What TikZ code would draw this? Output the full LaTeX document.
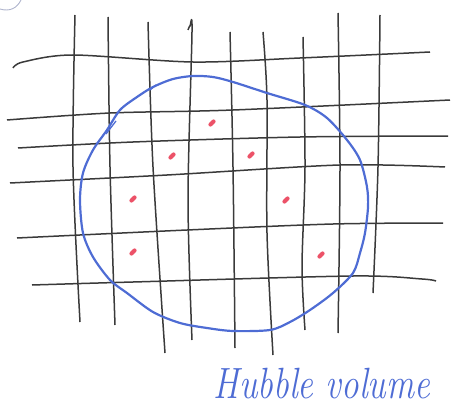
\documentclass[tikz,border=0pt]{standalone}
\definecolor{pencil}{RGB}{58,58,58}
\definecolor{penblue}{RGB}{78,108,212}
\definecolor{dotred}{RGB}{236,82,104}
\definecolor{faint}{RGB}{175,180,205}
\begin{document}
\begin{tikzpicture}[x=1pt,y=-1pt,line width=1.1pt,line join=round,
  grid/.style={draw=pencil,line width=1.5pt},
  horizon/.style={draw=penblue,line width=2.2pt},
  galaxy/.style={draw=dotred,line width=4pt,line cap=round},
  every node/.style={inner sep=0pt}]
\path[use as bounding box] (0,0) rectangle (452,409);
\coordinate (G1) at (212,123);
\coordinate (G2) at (172,156);
\coordinate (G3) at (251,155);
\coordinate (G4) at (133,199);
\coordinate (G5) at (286,200);
\coordinate (G6) at (133,252);
\coordinate (G7) at (321,255);
% vertical lines
\draw[grid] plot[smooth] coordinates {(75,15) (73,167) (80,322)};
\draw[grid] plot[smooth] coordinates {(108,17) (110,167) (115,325)};
\draw[grid] plot[smooth] coordinates {(148,22) (153,167) (165,353)};
\draw[grid] plot[smooth] coordinates {(188,30) (190,26) (192,32) (188,200) (192,340)};
\draw[grid] plot[smooth] coordinates {(230,32) (233,167) (235,348)};
\draw[grid] plot[smooth] coordinates {(263,32) (267,100) (267,233) (273,355)};
\draw[grid] plot[smooth] coordinates {(303,37) (305,167) (302,267) (305,330)};
\draw[grid] plot[smooth] coordinates {(338,13) (340,167) (338,333)};
\draw[grid] plot[smooth] coordinates {(380,15) (378,167) (373,293)};
% horizontal lines
\draw[grid] plot[smooth] coordinates {(13,68) (23,62) (73,55) (193,62) (300,58) (430,52)};
\draw[grid] plot[smooth] coordinates {(7,120) (110,113) (233,110) (450,100)};
\draw[grid] plot[smooth] coordinates {(18,148) (133,142) (300,137) (448,136)};
\draw[grid] plot[smooth] coordinates {(10,183) (167,175) (340,165) (445,167)};
\draw[grid] plot[smooth] coordinates {(17,238) (187,230) (333,224) (443,223)};
\draw[grid] plot[smooth] coordinates {(32,285) (133,282) (353,276) (422,279) (436,281)};
% hubble volume
\draw[horizon] plot[smooth cycle] coordinates {(153,87) (173,79) (193,76) (213,77) (233,82)
  (267,93) (305,105) (327,118) (347,140) (360,160) (367,187) (368,207) (365,233)
  (360,253) (353,273) (333,293) (310,310) (290,322) (270,330) (233,331) (207,328)
  (180,323) (153,312) (127,293) (110,280) (93,257) (83,233) (80,200) (83,173)
  (93,150) (107,130) (120,110) (137,97)};
\draw[horizon,line width=1.3pt] (106,134) -- (116,121);
\draw[horizon,line width=1.3pt] (150,90) -- (156,85);
\draw[faint,line width=0.9pt] (0,9) .. controls (10,12) and (17,8) .. (21,0);
% galaxies
\foreach \g in {G1,G2,G3,G4,G5,G6,G7}
  \draw[galaxy] (\g) ++(-1.6,1.6) -- ++(3.2,-3.2);
\node[text=penblue,font=\fontsize{35}{38}\selectfont\itshape,yscale=1.25] (label) at (322,384) {Hubble volume};
\end{tikzpicture}
\end{document}
